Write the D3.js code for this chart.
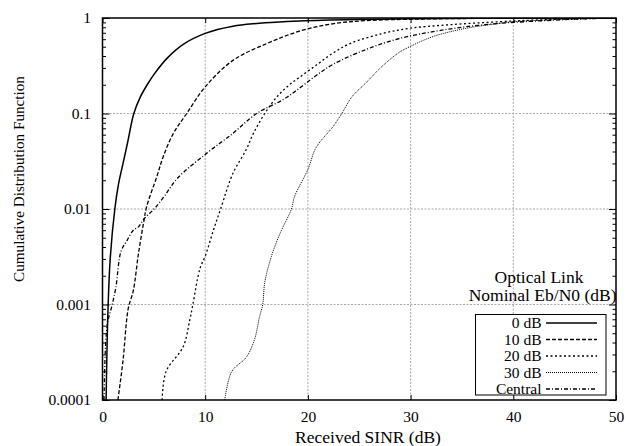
<!DOCTYPE html>
<html>
<head>
<meta charset="utf-8">
<script src="https://cdn.jsdelivr.net/npm/d3@7/dist/d3.min.js"></script>
<style>
  html, body { margin: 0; padding: 0; background: #fff; }
  svg { display: block; }
  svg text { font-family: "Liberation Serif", Tinos, "Times New Roman", Times, "Nimbus Roman", "DejaVu Serif", "Noto Serif", serif; fill: #000; }
</style>
</head>
<body>
<svg id="chart" width="636" height="446"></svg>
<script>
// Received SINR (dB) and cumulative probability for each nominal Eb/N0 setting
const sinr0dB  = [0.35, 0.45, 0.55, 0.75, 1.2, 1.55, 2.0, 2.45, 3.05, 3.7, 4.35, 5.05, 6.3, 7.86, 10, 12.7, 15, 19.2, 25, 30, 40, 50];
const cdf0dB   = [0.0001, 0.0004, 0.001, 0.003, 0.01, 0.018, 0.03, 0.05, 0.1, 0.15, 0.2, 0.26, 0.38, 0.53, 0.69, 0.82, 0.875, 0.93, 0.965, 0.98, 0.995, 1];

const sinr10dB = [1.5, 2.0, 2.5, 3.0, 3.5, 4.05, 4.3, 5.3, 5.9, 6.9, 8.2, 10, 12.7, 16, 19.2, 22.4, 25.7, 30, 35, 40, 50];
const cdf10dB  = [0.0001, 0.00026, 0.0009, 0.0014, 0.0034, 0.0077, 0.0106, 0.022, 0.035, 0.062, 0.1, 0.19, 0.36, 0.54, 0.73, 0.87, 0.94, 0.97, 0.988, 0.995, 1];

const sinr20dB = [5.8, 6.2, 7.85, 8.5, 8.8, 9.5, 10.0, 10.8, 11.5, 12.7, 14.0, 14.7, 15.8, 17.0, 18.2, 19.2, 20.8, 22.45, 24.1, 27.3, 29.9, 33.8, 38.7, 42, 46, 50];
const cdf20dB  = [0.0001, 0.0002, 0.00036, 0.00069, 0.001, 0.0024, 0.0032, 0.006, 0.01, 0.0236, 0.042, 0.062, 0.1, 0.15, 0.2, 0.24, 0.32, 0.43, 0.54, 0.69, 0.78, 0.85, 0.915, 0.95, 0.98, 1];

const sinr30dB = [11.9, 12.6, 14.0, 14.8, 15.3, 15.6, 15.8, 16.45, 17.3, 18.4, 18.7, 20.0, 20.8, 22.45, 23.3, 24.3, 25.6, 27.2, 28.8, 29.9, 32.2, 35.4, 38.7, 40, 44, 47, 50];
const cdf30dB  = [0.0001, 0.0002, 0.00028, 0.00043, 0.00075, 0.001, 0.0017, 0.0032, 0.0056, 0.01, 0.0135, 0.026, 0.044, 0.073, 0.1, 0.15, 0.207, 0.31, 0.43, 0.5, 0.64, 0.78, 0.88, 0.915, 0.96, 0.985, 1];

const sinrCentral = [0.15, 0.45, 0.95, 1.3, 1.8, 2.4, 3.0, 3.5, 4.1, 5.1, 6.1, 7.3, 10.1, 12.7, 15.0, 17.6, 19.2, 20.8, 22.4, 25.7, 28.9, 32.2, 35.4, 38.7, 40, 44, 47, 50];
const cdfCentral  = [0.0001, 0.0006, 0.001, 0.0015, 0.0036, 0.0047, 0.006, 0.0065, 0.008, 0.0102, 0.014, 0.021, 0.038, 0.062, 0.1, 0.14, 0.185, 0.25, 0.325, 0.47, 0.61, 0.72, 0.81, 0.88, 0.9, 0.95, 0.98, 1];

const seriesNames = ["0 dB", "10 dB", "20 dB", "30 dB", "Central"];
const xTickValues = [0, 10, 20, 30, 40, 50];
const yTickValues = [0.0001, 0.001, 0.01, 0.1, 1];
const yTickLabels = ["0.0001", "0.001", "0.01", "0.1", "1"];

const series = [
  { name: seriesNames[0], x: sinr0dB,     y: cdf0dB,     dash: null,      width: 1.5 },
  { name: seriesNames[1], x: sinr10dB,    y: cdf10dB,    dash: "4,2",     width: 1.3 },
  { name: seriesNames[2], x: sinr20dB,    y: cdf20dB,    dash: "2,2.5",   width: 1.3 },
  { name: seriesNames[3], x: sinr30dB,    y: cdf30dB,    dash: "1,1",     width: 1.0 },
  { name: seriesNames[4], x: sinrCentral, y: cdfCentral, dash: "4,2,1,2", width: 1.3 }
];

const serifStack = "'Liberation Serif', Tinos, 'Times New Roman', Times, 'Nimbus Roman', 'DejaVu Serif', 'Noto Serif', serif";

const svg = d3.select("#chart");
const plotLeft = 102.5, plotRight = 616, plotTop = 18, plotBottom = 400;

const x = d3.scaleLinear().domain([0, 50]).range([plotLeft, plotRight]);
const y = d3.scaleLog().domain([0.0001, 1]).range([plotBottom, plotTop]);

// grid
const grid = svg.append("g").attr("stroke", "#a8a8a8").attr("stroke-width", 1).attr("stroke-dasharray", "2,1.5");
[10, 20, 30, 40].forEach(v => grid.append("line")
  .attr("x1", x(v)).attr("x2", x(v)).attr("y1", plotTop).attr("y2", plotBottom));
[0.001, 0.01, 0.1].forEach(v => grid.append("line")
  .attr("x1", plotLeft).attr("x2", plotRight).attr("y1", y(v)).attr("y2", y(v)));

// minor log ticks
const minor = [];
for (let e = -4; e < 0; e++) for (let m = 2; m <= 9; m++) minor.push(m * Math.pow(10, e));

function styleAxis(g) {
  g.attr("font-family", null).attr("font-size", null);
  g.select(".domain").remove();
  g.selectAll("line").attr("stroke", "#000").attr("stroke-width", 1);
  g.selectAll("text").style("font-size", "15.5px").style("font-family", serifStack);
}

svg.append("g").attr("transform", `translate(0,${plotBottom})`)
  .call(d3.axisBottom(x).tickValues(xTickValues).tickSize(-5).tickPadding(11).tickFormat(d3.format("d")))
  .call(styleAxis);
svg.append("g").attr("transform", `translate(0,${plotTop})`)
  .call(d3.axisTop(x).tickValues(xTickValues).tickSize(-5).tickFormat(""))
  .call(styleAxis);
svg.append("g").attr("transform", `translate(${plotLeft},0)`)
  .call(d3.axisLeft(y).tickValues(yTickValues).tickSize(-7).tickPadding(11.5)
    .tickFormat((d, i) => yTickLabels[i]))
  .call(styleAxis);
svg.append("g").attr("transform", `translate(${plotLeft},0)`)
  .call(d3.axisLeft(y).tickValues(minor).tickSize(-3.5).tickFormat(""))
  .call(styleAxis);
svg.append("g").attr("transform", `translate(${plotRight},0)`)
  .call(d3.axisRight(y).tickValues(yTickValues).tickSize(-7).tickFormat(""))
  .call(styleAxis);
svg.append("g").attr("transform", `translate(${plotRight},0)`)
  .call(d3.axisRight(y).tickValues(minor).tickSize(-3.5).tickFormat(""))
  .call(styleAxis);

// curves
svg.append("clipPath").attr("id", "plotClip").append("rect")
  .attr("x", plotLeft).attr("y", plotTop).attr("width", plotRight - plotLeft).attr("height", plotBottom - plotTop);

const line = d3.line().x(d => x(d[0])).y(d => y(d[1])).curve(d3.curveCatmullRom.alpha(0.5));
const curves = svg.append("g").attr("clip-path", "url(#plotClip)");
series.forEach(s => {
  curves.append("path")
    .datum(s.x.map((v, i) => [v, s.y[i]]))
    .attr("fill", "none")
    .attr("stroke", "#000")
    .attr("stroke-width", s.width)
    .attr("stroke-dasharray", s.dash)
    .attr("d", line);
});

// frame
svg.append("rect").attr("x", plotLeft).attr("y", plotTop)
  .attr("width", plotRight - plotLeft).attr("height", plotBottom - plotTop)
  .attr("fill", "none").attr("stroke", "#000").attr("stroke-width", 1.5);

// axis titles
svg.append("text").attr("x", 368).attr("y", 443).attr("text-anchor", "middle")
  .style("font-family", serifStack).style("font-size", "17.5px").text("Received SINR (dB)");
svg.append("text").attr("transform", "translate(23.5,179) rotate(-90)").attr("text-anchor", "middle")
  .style("font-family", serifStack).style("font-size", "15.2px").text("Cumulative Distribution Function");

// legend
svg.append("text").attr("x", 539).attr("y", 282.5).attr("text-anchor", "middle")
  .style("font-family", serifStack).style("font-size", "17.5px").text("Optical Link");
svg.append("text").attr("x", 616.5).attr("y", 301).attr("text-anchor", "end")
  .style("font-family", serifStack).style("font-size", "17.5px").text("Nominal Eb/N0 (dB)");

const legend = svg.append("g");
legend.append("rect").attr("x", 475.5).attr("y", 314.5).attr("width", 130.5).attr("height", 80.5)
  .attr("fill", "#fff").attr("stroke", "#000").attr("stroke-width", 1);
series.forEach((s, i) => {
  const by = 328 + i * 16.5;
  legend.append("text").attr("x", 541.5).attr("y", by).attr("text-anchor", "end")
    .style("font-family", serifStack).style("font-size", "15.5px").text(s.name);
  legend.append("line").attr("x1", 546).attr("x2", 597).attr("y1", by - 5).attr("y2", by - 5)
    .attr("stroke", "#000").attr("stroke-width", s.width).attr("stroke-dasharray", s.dash);
});
</script>
</body>
</html>
